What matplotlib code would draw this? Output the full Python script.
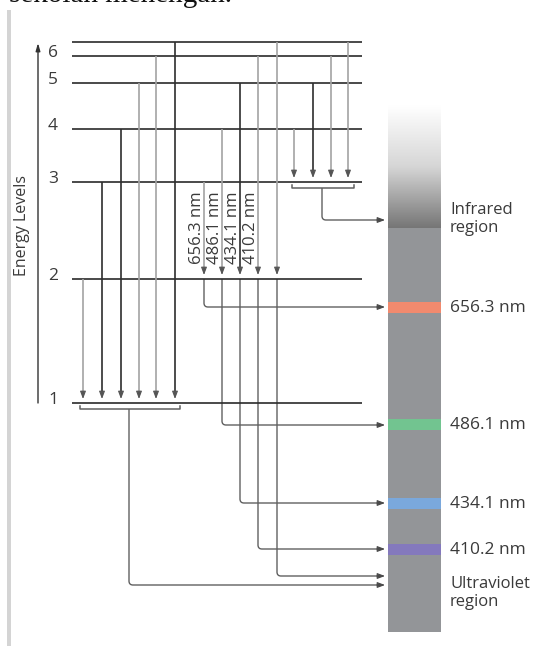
import matplotlib
matplotlib.use('Agg')
import matplotlib.pyplot as plt
import numpy as np
from matplotlib.path import Path
from matplotlib.patches import PathPatch, Rectangle
from matplotlib.colors import LinearSegmentedColormap

plt.rcParams['font.family'] = ['Open Sans', 'DejaVu Sans']

# energy levels (n) and where their lines sit in the drawing (pixel rows)
level_names = ['1', '2', '3', '4', '5', '6']
level_y = [403, 279, 182, 129, 83, 56]
top_y = 42                          # unlabelled top line (n = infinity)

# transitions: (upper level index, 'inf' = top line), column x, shade
lyman_upper = [1, 2, 3, 4, 5, 'inf']
lyman_x = [83, 102, 121, 139, 156, 175]
lyman_shade = ['g', 'k', 'k', 'g', 'g', 'k']

balmer_upper = [2, 3, 4, 5, 'inf']
balmer_x = [204, 222, 240, 258, 277]
balmer_shade = ['g', 'g', 'k', 'g', 'g']
balmer_target = [307, 425, 503, 549, 576]   # where each one meets the spectrum bar
balmer_nm = ['656.3 nm', '486.1 nm', '434.1 nm', '410.2 nm']

paschen_upper = [3, 4, 5, 'inf']
paschen_x = [294, 313, 331, 348]
paschen_shade = ['g', 'k', 'g', 'g']

# spectrum bar bands
band_labels = ['656.3 nm', '486.1 nm', '434.1 nm', '410.2 nm']
band_y = [307, 424, 503, 549]
band_colors = ['#f28a6e', '#72c490', '#7aa8dc', '#8479bd']

shades = {'k': '#2e2e2e', 'g': '#a3a3a3'}
txt = '#3a3a3a'
conn = '#606060'

fig = plt.figure(figsize=(5.38, 6.46), dpi=100)
ax = fig.add_axes([0, 0, 1, 1])
ax.set_xlim(0, 538)
ax.set_ylim(646, 0)
ax.axis('off')

# cropped caption text at the very top + page margin bar
ax.text(232, 2, 'sekolah menengah.', family='Liberation Serif', fontsize=21,
        ha='right', va='baseline', color='#111111', clip_on=False)
ax.add_patch(Rectangle((7, 10), 4, 640, color='#d4d4d4', lw=0))

# energy axis
ax.annotate('', xy=(38, 43), xytext=(38, 403),
            arrowprops=dict(arrowstyle='-|>,head_length=0.45,head_width=0.13',
                            color='#333333', lw=1.0, shrinkA=0, shrinkB=0))
ax.text(22, 225, 'Energy Levels', rotation=90, ha='center', va='center',
        fontsize=11.5, color=txt)

# level lines + numbers
for name, y in zip(level_names, level_y):
    ax.plot([72, 362], [y, y], color='#2a2a2a', lw=1.2, solid_capstyle='butt')
    ax.text(53, y + 1, name, ha='center', va='baseline', fontsize=12.5, color=txt)
ax.plot([72, 362], [top_y, top_y], color='#2a2a2a', lw=1.2, solid_capstyle='butt')


def upper_y(u):
    return top_y if u == 'inf' else level_y[u]


def transition(x, y0, y1, shade):
    ax.plot([x, x], [y0, y1 - 7], color=shades[shade], lw=1.2, solid_capstyle='butt')
    ax.annotate('', xy=(x, y1 - 4), xytext=(x, y1 - 11),
                arrowprops=dict(arrowstyle='-|>,head_length=0.45,head_width=0.17',
                                color='#555555', lw=0.8, shrinkA=0, shrinkB=0))


def connector(x, y0, ty, x_end=385, r=4):
    verts = [(x, y0), (x, ty - r), (x, ty), (x + r, ty), (x_end - 5, ty)]
    codes = [Path.MOVETO, Path.LINETO, Path.CURVE3, Path.CURVE3, Path.LINETO]
    ax.add_patch(PathPatch(Path(verts, codes), fill=False, edgecolor=conn, lw=1.0))
    ax.annotate('', xy=(x_end, ty), xytext=(x_end - 8, ty),
                arrowprops=dict(arrowstyle='-|>,head_length=0.45,head_width=0.17',
                                color='#4a4a4a', lw=0.8, shrinkA=0, shrinkB=0))


def bracket(x0, x1, y):
    ax.plot([x0, x0, x1, x1], [y - 3, y, y, y - 3], color=conn, lw=1.1)


# Lyman series (to n = 1)
for u, x, s in zip(lyman_upper, lyman_x, lyman_shade):
    transition(x, upper_y(u), level_y[0], s)
bracket(80, 180, 409)
connector(129, 409, 585)

# Balmer series (to n = 2)
for u, x, s, ty in zip(balmer_upper, balmer_x, balmer_shade, balmer_target):
    transition(x, upper_y(u), level_y[1], s)
    connector(x, level_y[1], ty)
for x, lab in zip(balmer_x, balmer_nm):
    ax.text(x - 7, 264, lab, rotation=90, ha='center', va='bottom',
            fontsize=12, color=txt)

# Paschen series (to n = 3)
for u, x, s in zip(paschen_upper, paschen_x, paschen_shade):
    transition(x, upper_y(u), level_y[2], s)
bracket(292, 354, 188)
connector(322, 188, 220)

# spectrum bar
bar_x0, bar_x1 = 388, 441
grad = LinearSegmentedColormap.from_list('ir', ['#ffffff', '#d6d6d6', '#767676'])
ax.imshow(np.linspace(0, 1, 200).reshape(-1, 1), cmap=grad, aspect='auto',
          extent=[bar_x0, bar_x1, 228, 105], zorder=1)
ax.add_patch(Rectangle((bar_x0, 228), bar_x1 - bar_x0, 632 - 228,
                       color='#939598', lw=0, zorder=1))
for y, c in zip(band_y, band_colors):
    ax.add_patch(Rectangle((bar_x0, y - 5.5), bar_x1 - bar_x0, 11,
                           color=c, lw=0, zorder=2))
ax.set_xlim(0, 538)
ax.set_ylim(646, 0)

for y, lab in zip(band_y, band_labels):
    ax.text(450, y + 1, lab, ha='left', va='center', fontsize=12.5, color=txt)
ax.text(450, 219, 'Infrared\nregion', ha='left', va='center', fontsize=12,
        color=txt, linespacing=1.15)
ax.text(450, 593, 'Ultraviolet\nregion', ha='left', va='center', fontsize=12,
        color=txt, linespacing=1.15)

fig.savefig('out.png', dpi=100)
